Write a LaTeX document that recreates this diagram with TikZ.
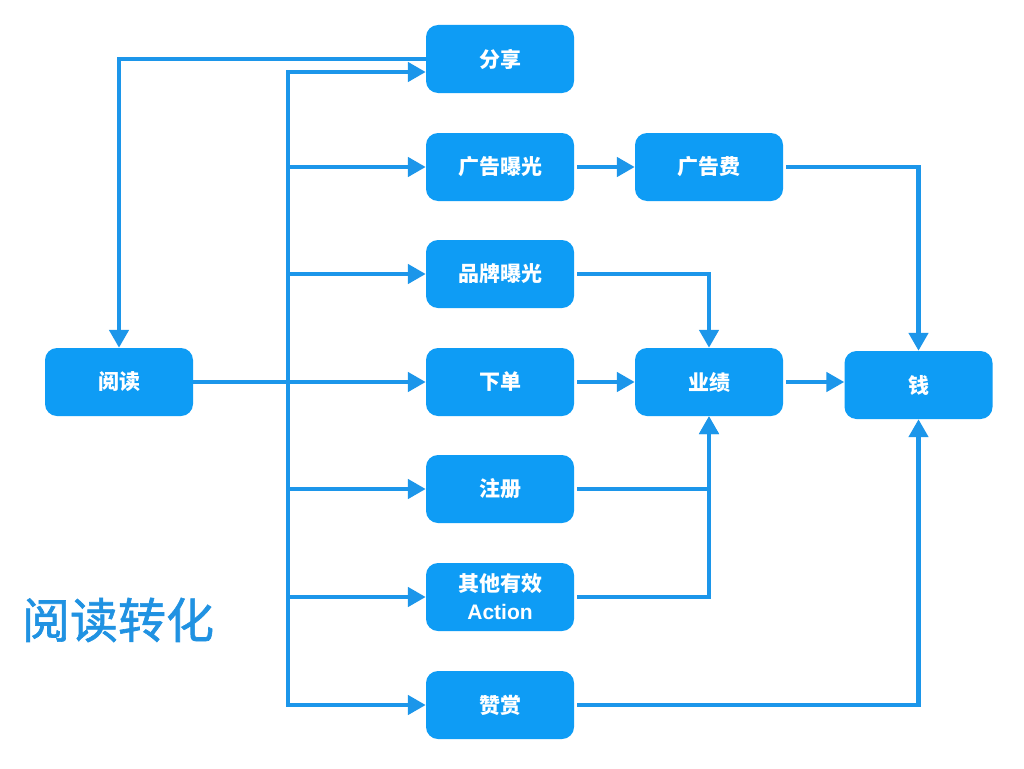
\documentclass[tikz,border=0pt]{standalone}
\usepackage{fontspec}
\setmainfont{Noto Sans CJK SC}
\newfontfamily\lsans{Liberation Sans}
\newfontfamily\titlefont{Noto Sans CJK SC}[FakeBold=1.3]
\usetikzlibrary{arrows.meta}
\definecolor{boxblue}{RGB}{14,156,245}
\definecolor{lineblue}{RGB}{28,150,234}
\definecolor{titleblue}{RGB}{32,146,226}
\tikzset{
  box/.style={draw=none, fill=boxblue, rounded corners=12pt, minimum width=148pt,
    minimum height=68pt, inner sep=0pt, text=white, align=center,
    font=\fontsize{21}{28}\selectfont\bfseries},
  conn/.style={draw=lineblue, line width=4.5pt},
  arr/.style={conn, -{Triangle[length=18pt,width=19pt]}},
  gap/.style={shorten <=3pt},
  titletext/.style={text=titleblue, font=\titlefont\fontsize{48}{52}\selectfont, inner sep=0pt}
}
\begin{document}
\begin{tikzpicture}[x=1pt,y=-1pt]
\useasboundingbox[fill=white] (0,0) rectangle (1024,768);
% nodes
\node[box] (fenxiang) at (500,59) {分享};
\node[box] (guanggao) at (500,167) {广告曝光};
\node[box] (pinpai) at (500,274) {品牌曝光};
\node[box] (xiadan) at (500,382) {下单};
\node[box] (zhuce) at (500,489) {注册};
\node[box] (qita) at (500,597) {其他有效\\{\lsans\bfseries Action}};
\node[box] (zanshang) at (500,705) {赞赏};
\node[box] (guanggaofei) at (709,167) {广告费};
\node[box] (yeji) at (709,382) {业绩};
\node[box] (qian) at (918.5,385) {钱};
\node[box] (yuedu) at (119,382) {阅读};
\node[titletext] (title) at (118,620) {阅读转化};
% trunk
\coordinate (tTop) at (288,72);
\coordinate (tBot) at (288,705);
\draw[arr] (tBot) -- (tTop) -- (fenxiang.west |- tTop);
\draw[arr] (tTop) -- (tBot) -- (zanshang.west);
\draw[arr] (tTop |- guanggao.west) -- (guanggao.west);
\draw[arr] (tTop |- pinpai.west) -- (pinpai.west);
\draw[arr] (tTop |- zhuce.west) -- (zhuce.west);
\draw[arr] (tTop |- qita.west) -- (qita.west);
% reading
\draw[arr] (yuedu.east) -- (xiadan.west);
\draw[arr] (fenxiang.west) -| (yuedu.north);
% right side
\draw[arr, gap] (guanggao.east) -- (guanggaofei.west);
\draw[arr, gap] (guanggaofei.east) -| (qian.north);
\draw[arr, gap] (pinpai.east) -| (yeji.north);
\draw[arr, gap] (xiadan.east) -- (yeji.west);
\draw[arr, gap] (yeji.east) -- (qian.west |- yeji.east);
\draw[arr, gap] (zhuce.east) -| (yeji.south);
\draw[arr, gap] (qita.east) -| (yeji.south);
\draw[arr, gap] (zanshang.east) -| (qian.south);
\end{tikzpicture}
\end{document}
